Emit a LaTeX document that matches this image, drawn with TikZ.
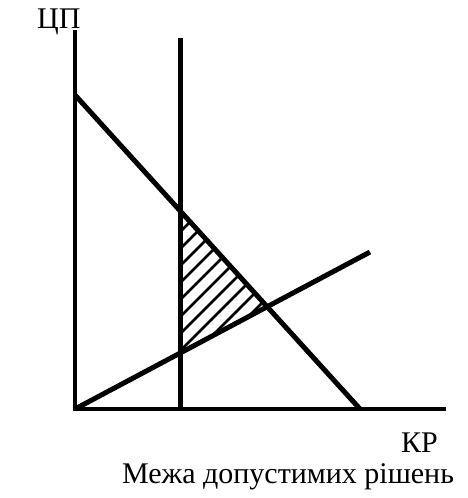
\documentclass[tikz,border=0pt]{standalone}
\usepackage{fontspec}
\setmainfont{Liberation Serif}
\begin{document}
\begin{tikzpicture}[x=1pt,y=-1pt,
  axis/.style={line width=4pt},
  lim/.style={line width=5pt},
  hatch/.style={line width=2.8pt},
  lbl/.style={font=\fontsize{30}{32}\selectfont, inner sep=0pt}]
\useasboundingbox (0,0) rectangle (468,498);
\coordinate (O) at (75,409);
\coordinate (Ytop) at (75,30);
\coordinate (Xend) at (446,409);
\coordinate (Vt) at (180,38);
\coordinate (Vb) at (180,409);
\coordinate (Dt) at (75,95);
\coordinate (Db) at (360,409);
\coordinate (Re) at (370,252);
\coordinate (A) at (180,211);
\coordinate (B) at (180,352);
\coordinate (C) at (266.6,306.5);
% hatching
\begin{scope}
\clip (A) -- (C) -- (B) -- cycle;
\foreach \k in {0,...,14}{
  \draw[hatch] (180,{215+\k*17}) -- ++(150,-150);
}
\end{scope}
\draw[axis] (Ytop) -- (O) -- (Xend);
\draw[lim] (Vt) -- (Vb);
\draw[lim] (Dt) -- (Db);
\draw[lim] (O) -- (Re);
\node[lbl, anchor=base west] (yl) at (37,28) {ЦП};
\node[lbl, anchor=base east] (xl) at (438,452) {КР};
\node[lbl, anchor=base] (cap) at (288,483) {Межа допустимих рішень};
\end{tikzpicture}
\end{document}
